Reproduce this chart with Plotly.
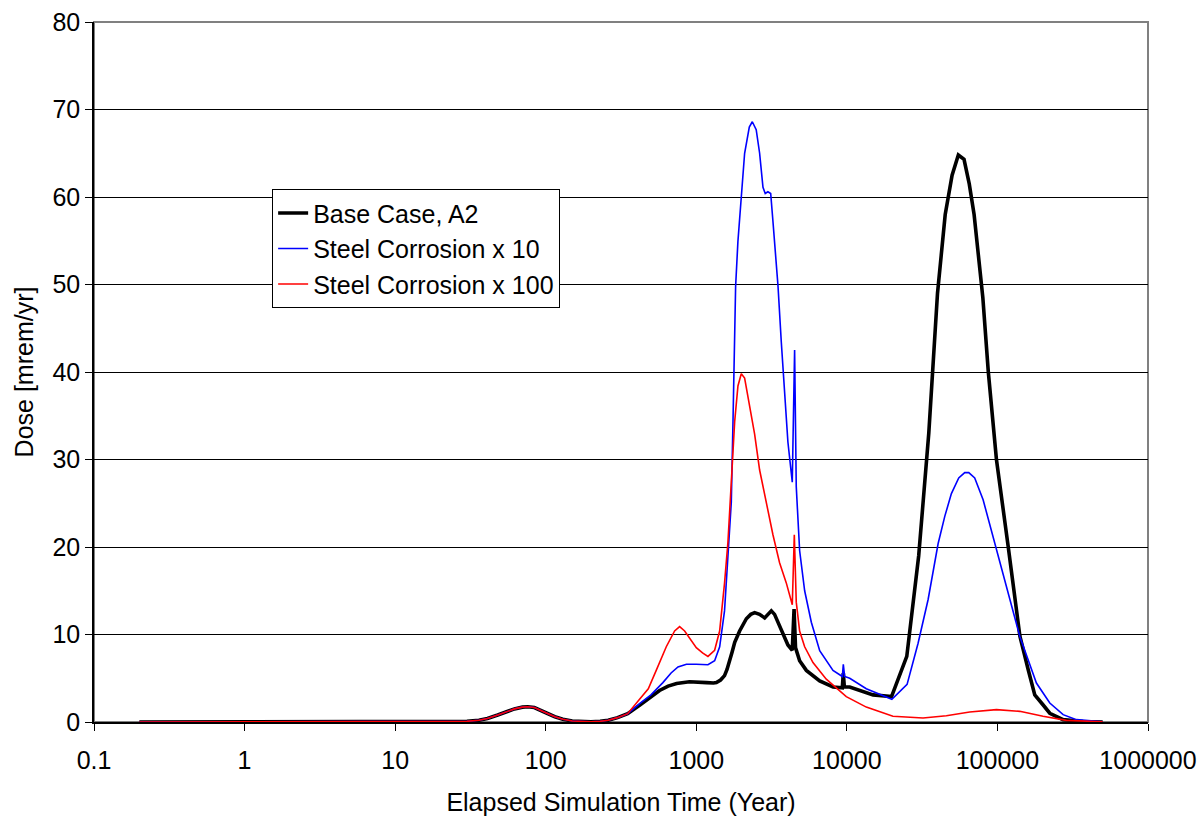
import plotly.graph_objects as go

# ---- data ----
early_t = [0.2, 1, 5, 10, 20, 30, 36, 41, 48, 55, 62, 70, 76, 84, 93, 102, 115, 130, 150, 175, 200, 230, 260, 300, 350]
early_d = [0.0, 0.0, 0.0, 0.01, 0.02, 0.08, 0.2, 0.4, 0.8, 1.2, 1.5, 1.7, 1.75, 1.65, 1.35, 1.0, 0.6, 0.32, 0.12, 0.04, 0.03, 0.08, 0.2, 0.5, 0.95]

base_t = early_t + [420, 500, 570, 650, 740, 900, 1050, 1170, 1300, 1360, 1450, 1540, 1600, 1665, 1730, 1800, 1940,
                    2150, 2300, 2440, 2630, 2845, 3000, 3150, 3310, 3500, 3670, 4060, 4340, 4460, 4560, 4700, 4856,
                    5382, 6000, 6600, 8100, 9330, 9470, 9620, 10450, 13460, 14930, 19800, 25000, 30000, 35000,
                    40000, 45000, 50000, 55000, 60000, 65000, 70000, 75000, 80000, 87000, 98500, 118000, 141000,
                    160000, 177000, 200000, 222700, 273000, 370000, 500000]
base_d = early_d + [1.9, 2.9, 3.6, 4.1, 4.4, 4.6, 4.6, 4.5, 4.45, 4.5, 4.8, 5.3, 6.0, 6.9, 8.0, 9.1, 10.4,
                    11.8, 12.3, 12.5, 12.3, 11.9, 12.3, 12.7, 12.3, 11.3, 10.4, 8.8, 8.2, 12.9, 8.5, 7.6, 7.0,
                    5.9, 5.2, 4.7, 4.0, 3.9, 5.6, 4.0, 4.0, 3.3, 3.1, 2.9, 7.5, 19.0, 33.0,
                    49.0, 58.0, 62.5, 64.8, 64.3, 61.5, 58.0, 53.5, 48.5, 40.0, 30.0, 20.0, 9.8,
                    6.0, 3.1, 2.0, 1.0, 0.27, 0.04, 0.0]

x10_t = early_t + [420, 500, 600, 680, 756, 860, 1000, 1195, 1324, 1430, 1540, 1620, 1708, 1753, 1825, 1890, 1990,
                   2094, 2250, 2355, 2500, 2634, 2773, 2870, 2990, 3120, 3230, 3490, 3670, 3860, 4060, 4340, 4498,
                   4613, 4856, 5245, 5808, 6600, 8090, 9337, 9472, 9670, 10450, 13460, 19900, 25120, 29720, 34650,
                   40390, 44700, 49460, 55330, 60650, 64520, 70650, 80330, 98500, 120800, 140700, 181500, 222700,
                   273100, 334900, 500000]
x10_d = early_d + [2.1, 3.1, 4.5, 5.6, 6.3, 6.6, 6.6, 6.55, 7.0, 8.6, 12.7, 18.2, 25.1, 34.3, 49.8, 54.9, 60.4,
                   65.0, 68.0, 68.6, 67.7, 65.0, 61.1, 60.4, 60.6, 60.4, 57.2, 49.8, 43.4, 37.9, 32.0, 27.4, 42.5,
                   26.9, 19.6, 15.0, 11.4, 8.15, 5.9, 5.2, 6.6, 5.2, 5.0, 3.8, 2.6, 4.3, 9.0, 14.0,
                   20.4, 23.5, 26.1, 27.9, 28.5, 28.5, 27.9, 25.4, 19.7, 14.0, 9.8, 4.45, 2.17,
                   0.84, 0.27, 0.02]

x100_t = early_t + [420, 480, 542, 632, 718, 775, 837, 920, 1000, 1100, 1195, 1324, 1429, 1541, 1622, 1708, 1798,
                    1891, 1990, 2094, 2260, 2440, 2634, 2917, 3229, 3574, 3960, 4341, 4477, 4613, 4856, 5245, 5957,
                    7300, 9910, 13460, 20230, 32060, 45800, 65440, 98500, 140700, 200900, 287100, 500000]
x100_d = early_d + [2.6, 3.8, 5.9, 8.6, 10.4, 10.9, 10.4, 9.4, 8.5, 7.9, 7.5, 8.2, 10.4, 15.9, 20.5, 27.4, 34.3,
                    38.4, 39.8, 39.3, 36.1, 32.9, 28.8, 25.1, 21.4, 18.2, 15.9, 13.4, 21.4, 13.7, 10.4, 8.6, 6.8,
                    4.9, 2.9, 1.7, 0.65, 0.46, 0.72, 1.14, 1.41, 1.22, 0.65, 0.19, 0.02]

x_tickvals = [0.1, 1, 10, 100, 1000, 10000, 100000, 1000000]
x_ticktext = ["0.1", "1", "10", "100", "1000", "10000", "100000", "1000000"]
y_tickvals = [0, 10, 20, 30, 40, 50, 60, 70, 80]

FONT = "Liberation Sans, Arial, sans-serif"
FS = 25

fig = go.Figure()
fig.add_trace(go.Scatter(x=base_t, y=base_d, mode="lines", name="Base Case, A2",
                         line=dict(color="#000000", width=3.6)))
fig.add_trace(go.Scatter(x=x10_t, y=x10_d, mode="lines", name="Steel Corrosion x 10",
                         line=dict(color="#0000FF", width=1.6)))
fig.add_trace(go.Scatter(x=x100_t, y=x100_d, mode="lines", name="Steel Corrosion x 100",
                         line=dict(color="#FF0000", width=1.6)))

fig.update_layout(
    width=1202, height=816,
    margin=dict(l=94, r=54, t=22, b=94, autoexpand=False),
    paper_bgcolor="white", plot_bgcolor="white",
    font=dict(family=FONT, size=FS, color="black"),
    showlegend=True,
    legend=dict(x=0.169, y=0.761, xanchor="left", yanchor="top",
                bgcolor="white", bordercolor="black", borderwidth=1,
                font=dict(family=FONT, size=FS, color="black"),
                tracegroupgap=0),
    shapes=[dict(type="rect", xref="paper", yref="paper", x0=0, y0=0, x1=1, y1=1,
                 line=dict(color="#808080", width=2), layer="below")],
)
fig.update_xaxes(type="log", range=[-1, 6], tickvals=x_tickvals, ticktext=x_ticktext,
                 automargin=False,
                 showgrid=False, zeroline=False, showline=True, linecolor="black", linewidth=1.5,
                 ticks="outside", ticklen=7, tickcolor="black", tickwidth=1,
                 ticklabelstandoff=8,
                 tickfont=dict(family=FONT, size=FS),
                 title=dict(text="Elapsed Simulation Time (Year)", font=dict(family=FONT, size=FS), standoff=22))
fig.update_yaxes(range=[0, 80], tickvals=y_tickvals,
                 automargin=False,
                 showgrid=True, gridcolor="#000000", gridwidth=1, zeroline=False,
                 showline=True, linecolor="black", linewidth=1.5,
                 ticks="outside", ticklen=7, tickcolor="black", tickwidth=1,
                 tickfont=dict(family=FONT, size=FS),
                 title=dict(text="Dose [mrem/yr]", font=dict(family=FONT, size=FS), standoff=12))

fig.write_html("out.html")
